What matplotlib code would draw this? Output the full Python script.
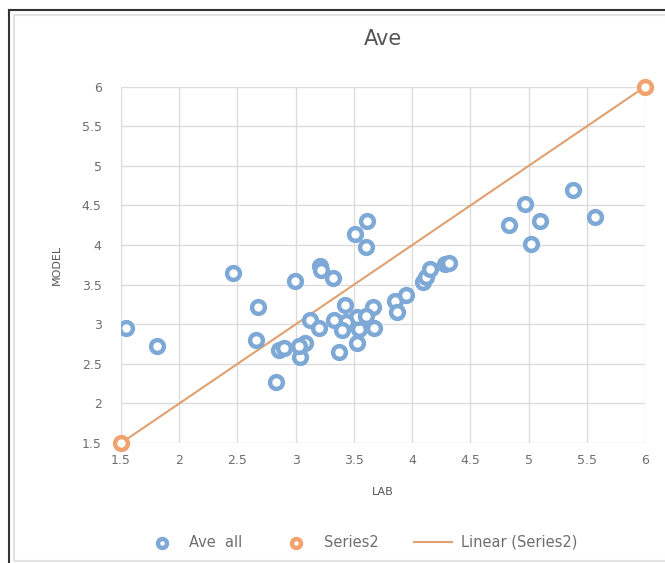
import matplotlib.pyplot as plt
import numpy as np

# Ave all (LAB vs MODEL)
lab = [1.54, 1.81, 2.46, 2.99, 2.68, 2.66, 2.86, 2.83, 2.90,
       3.61, 3.51, 3.60, 3.21, 3.22, 3.32, 3.12, 3.20, 3.08, 3.04, 3.03,
       3.42, 3.66, 3.67, 3.54, 3.53, 3.60, 3.43, 3.33, 3.40, 3.53, 3.37,
       3.85, 3.87, 3.95, 4.09, 4.12, 4.15, 4.28, 4.32,
       4.83, 4.97, 5.02, 5.10, 5.38, 5.57]
model = [2.95, 2.73, 3.65, 3.55, 3.22, 2.80, 2.68, 2.27, 2.70,
         4.30, 4.14, 3.98, 3.73, 3.68, 3.59, 3.05, 2.95, 2.76, 2.59, 2.73,
         3.24, 3.22, 2.95, 2.94, 3.09, 3.10, 3.03, 3.06, 2.93, 2.77, 2.65,
         3.30, 3.16, 3.37, 3.53, 3.60, 3.70, 3.76, 3.77,
         4.25, 4.52, 4.02, 4.30, 4.69, 4.36]

series2_x = [1.5, 6]
series2_y = [1.5, 6]

ticks = [1.5, 2, 2.5, 3, 3.5, 4, 4.5, 5, 5.5, 6]
tick_labels = ['1.5', '2', '2.5', '3', '3.5', '4', '4.5', '5', '5.5', '6']

blue = '#7EA9D6'
orange = '#F0A36E'
line_orange = '#E0A070'
grey = '#6E6E6E'

fig = plt.figure(figsize=(6.65, 5.63), dpi=100)
ax = fig.add_axes([0.182, 0.213, 0.788, 0.633])

# trendline of Series2
coef = np.polyfit(series2_x, series2_y, 1)
xs = np.array([min(series2_x), max(series2_x)])
ax.plot(xs, np.polyval(coef, xs), color=line_orange, lw=1.5, zorder=2,
        label='Linear (Series2)')

ax.scatter(lab, model, s=85, facecolors='white', edgecolors=blue,
           linewidths=3.2, zorder=3, label='Ave  all')
ax.scatter(series2_x, series2_y, s=85, facecolors='white', edgecolors=orange,
           linewidths=3.2, zorder=4, label='Series2', clip_on=False)

ax.set_xlim(1.5, 6)
ax.set_ylim(1.5, 6)
ax.set_xticks(ticks)
ax.set_xticklabels(tick_labels)
ax.set_yticks(ticks)
ax.set_yticklabels(tick_labels)
ax.tick_params(length=0, labelsize=9, colors=grey)
ax.tick_params(axis='x', pad=8)
ax.tick_params(axis='y', pad=14)
ax.grid(True, color='#DCDCDC', lw=1)
ax.set_axisbelow(True)
for s in ax.spines.values():
    s.set_visible(False)

ax.set_title('Ave', fontsize=15, color='#555555', pad=30)
ax.set_xlabel('LAB', fontsize=8, color='#555555', labelpad=14)
ax.set_ylabel('MODEL', fontsize=8, color='#555555', labelpad=14)

h, l = ax.get_legend_handles_labels()
order = [1, 2, 0]
leg = fig.legend([h[i] for i in order], [l[i] for i in order], loc='center',
                 bbox_to_anchor=(0.541, 0.037), ncol=3, frameon=False,
                 fontsize=10.5, labelcolor=grey, handlelength=2.6,
                 handletextpad=0.6, columnspacing=2.4, markerscale=0.7)

# chart frame: dark top/left edge, light inner border
fig.add_artist(plt.Line2D([9 / 665, 9 / 665], [0, 1 - 10 / 563],
                          color='#333333', lw=1.5))
fig.add_artist(plt.Line2D([9 / 665, 1], [1 - 10 / 563, 1 - 10 / 563],
                          color='#333333', lw=1.5))
fig.patches.append(plt.Rectangle((14 / 665, 2 / 563), 1, 1 - 17 / 563,
                                 transform=fig.transFigure, fill=False,
                                 edgecolor='#E2E2E2', lw=1.5))

plt.savefig('out.png', dpi=100)
